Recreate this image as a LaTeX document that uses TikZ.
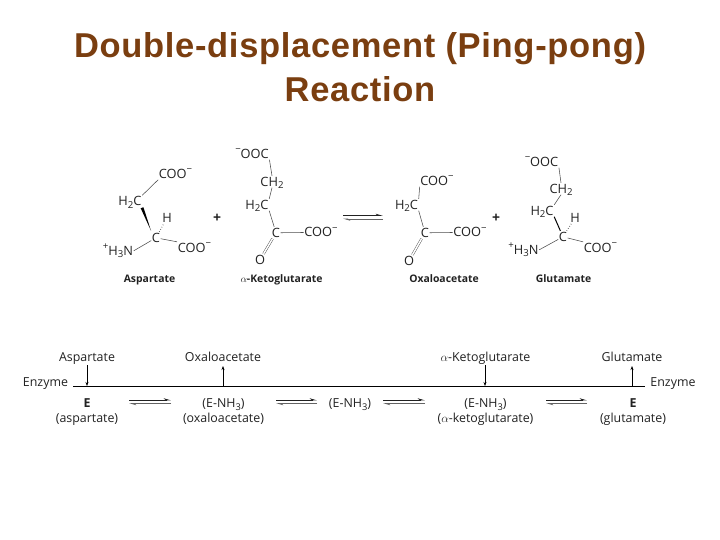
\documentclass[tikz,border=0pt]{standalone}
\usepackage{fontspec}
\setmainfont{Open Sans}
\newfontfamily\titlefont[LetterSpace=2]{Liberation Sans}
\usetikzlibrary{arrows.meta}
\definecolor{titlebrown}{HTML}{7A3E10}
\definecolor{ink}{HTML}{222222}
\newcommand{\subn}[1]{\raisebox{-0.22em}{\scalebox{0.75}{#1}}}
\newcommand{\supn}[1]{\raisebox{0.42em}{\scalebox{0.75}{#1}}}
\newcommand{\Coo}{COO\supn{−}}
\newcommand{\Ooc}{\supn{−}OOC}
\newcommand{\Hhc}{H\subn{2}C}
\newcommand{\Chh}{CH\subn{2}}
\newcommand{\Hhhn}{\supn{+}H\subn{3}N}
\newcommand{\Enh}{(E-NH\subn{3})}
\tikzset{
  chem/.style={font=\fontsize{12.8}{14}\selectfont,text=ink,inner sep=0.5pt,text height=9.5pt,text depth=1pt,yshift=-0.8pt},
  chemlabel/.style={font=\fontsize{10.4}{12}\selectfont\bfseries,text=ink,inner sep=0pt,text height=8pt,text depth=2.5pt,yshift=-1.5pt},
  scheme/.style={font=\fontsize{12.4}{14}\selectfont,text=ink,inner sep=0pt,text height=9.5pt,text depth=3pt,yshift=-1.5pt},
  titletext/.style={font=\fontsize{34.5}{44}\selectfont\titlefont\bfseries,text=titlebrown,inner sep=0pt,text height=26pt,text depth=7pt},
  bond/.style={draw=ink!80,line width=0.55pt},
  mainline/.style={draw=black,line width=0.8pt},
  flow/.style={draw=black,line width=0.6pt,-{Stealth[length=4pt,width=3pt]}},
  fwd/.style={draw=ink,line width=0.8pt,-{Stealth[harpoon,length=6pt,width=3.5pt]}},
  bwd/.style={draw=ink!70,line width=0.8pt,-{Stealth[harpoon,length=6pt,width=3.5pt]}},
}
\begin{document}
\begin{tikzpicture}[x=1pt,y=-1pt]
\useasboundingbox (0,0) rectangle (720,540);
\fill[white] (0,0) rectangle (720,540);
% Title
\node[titletext] (t1) at (360,47.8) {Double-displacement (Ping-pong)};
\node[titletext] (t2) at (360,92.2) {Reaction};
% Aspartate
\node[chem] (a1) at (175.5,173) {\Coo};
\node[chem] (a2) at (130,200.5) {\Hhc};
\node[chem] (a3) at (156,237) {C};
\node[chem] (a4) at (167,217) {H};
\node[chem] (a5) at (118,250) {\Hhhn};
\node[chem] (a6) at (194.5,247) {\Coo};
\node[chemlabel] (a7) at (149.5,278) {Aspartate};
\draw[bond] (a1.south west) -- (a2.north east);
\fill[black] ([xshift=-1.5pt,yshift=-1pt]a2.south east) -- ([xshift=-0.2pt,yshift=1pt]a3.north west) -- ([xshift=1.2pt,yshift=0pt]a2.south east) -- cycle;
\draw[bond,dotted,line width=1pt] (a3) -- (a4);
\draw[bond] (a3) -- (a5.east);
\draw[bond] (a3) -- (a6.north west);
% plus
\node[chem,font=\fontsize{14}{15}\selectfont\bfseries] (p1) at (217,217) {+};
% Ketoglutarate
\node[chem] (k1) at (252,153) {\Ooc};
\node[chem] (k2) at (272,181) {\Chh};
\node[chem] (k3) at (257,204) {\Hhc};
\node[chem] (k4) at (276,232) {C};
\node[chem] (k5) at (321,231.5) {\Coo};
\node[chem] (k6) at (260,259) {O};
\node[chemlabel] (k7) at (281.5,278) {$\alpha$-Ketoglutarate};
\draw[bond] (k1.south east) -- (k2.north);
\draw[bond] (k2.south) -- (k3.north east);
\draw[bond] (k3.south east) -- (k4);
\draw[bond] (k4) -- (k5);
\draw[bond,double,double distance=1.5pt,line width=0.45pt] (k4) -- (k6);
% Equilibrium
\coordinate (e1) at (343,215.5);
\coordinate (e2) at (383,215.5);
\coordinate (e3) at (383,219);
\coordinate (e4) at (343,219);
\draw[fwd] (e1) -- (e2);
\draw[bwd] (e3) -- (e4);
% Oxaloacetate
\node[chem] (o1) at (437,180) {\Coo};
\node[chem] (o2) at (406.5,204) {\Hhc};
\node[chem] (o3) at (425,232) {C};
\node[chem] (o4) at (470,231.5) {\Coo};
\node[chem] (o5) at (409,260) {O};
\node[chemlabel] (o6) at (444,278) {Oxaloacetate};
\draw[bond] (o1.south west) -- (o2.north east);
\draw[bond] (o2.south east) -- (o3);
\draw[bond] (o3) -- (o4);
\draw[bond,double,double distance=1.5pt,line width=0.45pt] (o3) -- (o5);
\node[chem,font=\fontsize{14}{15}\selectfont\bfseries] (p2) at (496,217) {+};
% Glutamate
\node[chem] (g1) at (541.5,161) {\Ooc};
\node[chem] (g2) at (561,188) {\Chh};
\node[chem] (g3) at (542,210) {\Hhc};
\node[chem] (g4) at (563,236) {C};
\node[chem] (g5) at (575,217) {H};
\node[chem] (g6) at (523.5,249) {\Hhhn};
\node[chem] (g7) at (600.5,247) {\Coo};
\node[chemlabel] (g8) at (563.5,278) {Glutamate};
\draw[bond] (g1.south east) -- (g2.north);
\draw[bond] (g2.south) -- (g3.north east);
\draw[black,line width=1pt] (g3.south east) -- (g4);
\draw[bond,dotted,line width=1pt] (g4) -- (g5);
\draw[bond] (g4) -- (g6.east);
\draw[bond] (g4) -- (g7.north west);
% Scheme
\node[scheme] (s1) at (87,357) {Aspartate};
\node[scheme] (s2) at (223,357) {Oxaloacetate};
\node[scheme] (s3) at (485.5,357) {$\alpha$-Ketoglutarate};
\node[scheme] (s4) at (632,357) {Glutamate};
\node[scheme] (en1) at (45.5,382) {Enzyme};
\node[scheme] (en2) at (673,382) {Enzyme};
\coordinate (l1) at (73,386);
\coordinate (l2) at (645,386);
\draw[mainline] (l1) -- (l2);
\coordinate (j1) at (87,386);
\coordinate (j2) at (223,386);
\coordinate (j3) at (485,386);
\coordinate (j4) at (632,386);
\coordinate (h1) at (87,365);
\coordinate (h2) at (223,366);
\coordinate (h3) at (485,365);
\coordinate (h4) at (632,366);
\draw[flow] (h1) -- (j1);
\draw[flow] (j2) -- (h2);
\draw[flow] (h3) -- (j3);
\draw[flow] (j4) -- (h4);
\node[scheme,font=\fontsize{12.4}{14}\selectfont\bfseries] (b1) at (87,403) {E};
\node[scheme] (b2) at (87,418) {(aspartate)};
\node[scheme] (b3) at (223.5,403) {\Enh};
\node[scheme] (b4) at (223.5,418) {(oxaloacetate)};
\node[scheme] (b5) at (350,403) {\Enh};
\node[scheme] (b6) at (485.5,403) {\Enh};
\node[scheme] (b7) at (485.5,418) {($\alpha$-ketoglutarate)};
\node[scheme,font=\fontsize{12.4}{14}\selectfont\bfseries] (b8) at (633,403) {E};
\node[scheme] (b9) at (633,418) {(glutamate)};
\foreach \i/\xa/\xb in {1/129/171,2/276/317,3/383/425,4/546/587}{
  \coordinate (q\i a) at (\xa,400);
  \coordinate (q\i b) at (\xb,400);
  \coordinate (q\i c) at (\xb,403.5);
  \coordinate (q\i d) at (\xa,403.5);
  \draw[fwd] (q\i a) -- (q\i b);
  \draw[bwd] (q\i c) -- (q\i d);
}
\end{tikzpicture}
\end{document}
